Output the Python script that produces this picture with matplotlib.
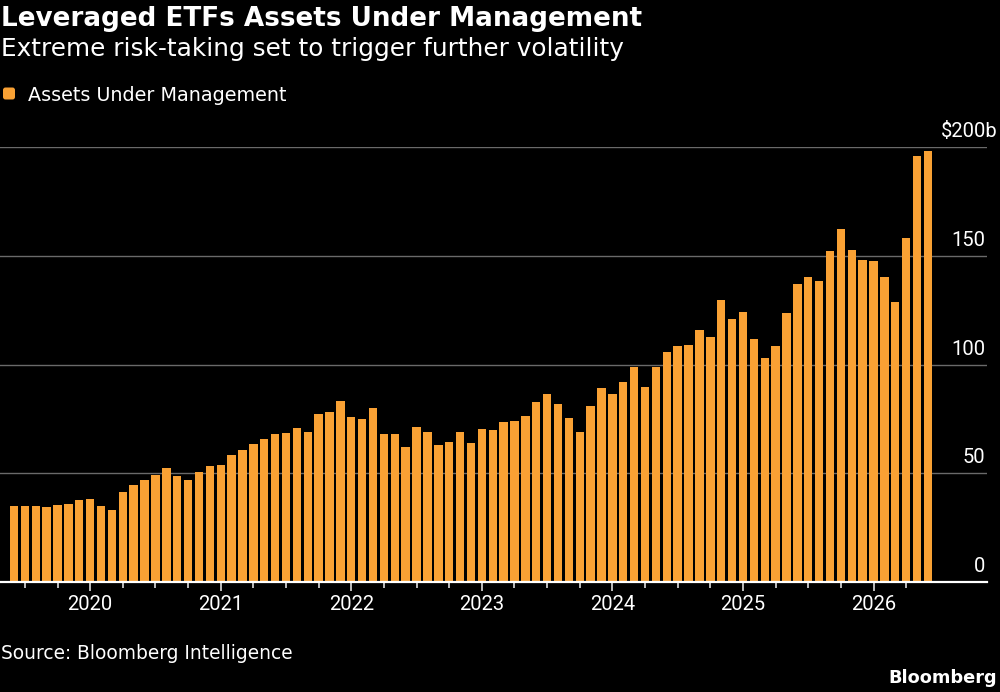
import matplotlib
matplotlib.use("Agg")
import matplotlib.pyplot as plt
from matplotlib import transforms
from matplotlib.patches import FancyBboxPatch

plt.rcParams['font.family'] = ['Roboto', 'DejaVu Sans']
HEAD = ['DejaVu Sans']

# ---- data ----
start_year, start_month = 2019, 6  # first bar: June 2019
aum = [35.0, 35.0, 34.9, 34.4, 35.2, 35.8, 37.5, 37.9, 35.0, 33.0,
       41.3, 44.5, 47.0, 49.3, 52.4, 48.8, 47.0, 50.5, 53.3, 53.9,
       58.2, 60.8, 63.4, 65.7, 67.9, 68.6, 70.6, 69.1, 77.1, 78.2,
       83.2, 75.9, 74.9, 80.0, 67.9, 68.0, 62.0, 71.3, 68.8, 63.0,
       64.3, 69.0, 63.7, 70.3, 69.9, 73.4, 74.0, 76.3, 82.8, 86.5,
       81.7, 75.4, 69.1, 81.1, 89.4, 86.5, 91.8, 99.0, 89.5, 98.8,
       105.8, 108.6, 109.0, 115.9, 112.7, 129.9, 121.1, 124.4, 111.9, 103.0,
       108.6, 123.5, 137.1, 140.5, 138.5, 152.2, 162.6, 152.9, 148.2, 147.7,
       140.4, 128.8, 158.2, 195.9, 198.2]
year_labels = ['2020', '2021', '2022', '2023', '2024', '2025', '2026']
y_ticks = [0, 50, 100, 150, 200]
y_tick_labels = ['0', '50', '100', '150', '$200b']

title = "Leveraged ETFs Assets Under Management"
subtitle = "Extreme risk-taking set to trigger further volatility"
legend_label = "Assets Under Management"
source = "Source: Bloomberg Intelligence"

BAR = '#F9A134'
W, H = 1000, 692

fig = plt.figure(figsize=(W / 100, H / 100), dpi=100, facecolor='black')
ax = fig.add_axes([0, 110.3 / H, 0.987, 434.4 / H])
ax.set_facecolor('black')

x = list(range(len(aum)))
ax.bar(x, aum, width=0.77, color=BAR, zorder=3, label=legend_label)

ax.set_xlim(-1.287, 89.43)
ax.set_ylim(0, 200)

months = [(start_year + (start_month - 1 + i) // 12, (start_month - 1 + i) % 12 + 1) for i in x]
major = [i for i, (yy, mm) in enumerate(months) if mm == 1]
minor = [i for i, (yy, mm) in enumerate(months) if mm in (4, 7, 10) and i <= 82]
ax.set_xticks(major)
ax.set_xticklabels(year_labels)
ax.set_xticks(minor, minor=True)
ax.tick_params(axis='x', which='major', length=6.5, width=1.2, color='#dddddd',
               labelcolor='white', labelsize=14.5, pad=3)
ax.tick_params(axis='x', which='minor', length=4, width=1.2, color='#dddddd')

ax.set_yticks(y_ticks)
ax.tick_params(axis='y', length=0, labelleft=False, labelright=False)
ax.grid(axis='y', color='#6a6a6a', linewidth=1.0, zorder=1)
ax.set_axisbelow(True)

for s in ['left', 'right', 'top']:
    ax.spines[s].set_visible(False)
ax.spines['bottom'].set_color('white')
ax.spines['bottom'].set_linewidth(1.6)
ax.spines['bottom'].set_zorder(5)

ytr = transforms.offset_copy(ax.get_yaxis_transform(), fig=fig, y=10, units='dots')
for v, lab in zip(y_ticks, y_tick_labels):
    xr = 985.5 / 987 if v != 200 else 997 / 987
    ax.text(xr, v, lab, transform=ytr, ha='right', va='baseline',
            color='white', fontsize=14.5, clip_on=False)

# ---- header / footer ----
def fy(py):
    return 1 - py / H

fig.text(1 / W, fy(26.5), title, color='white', fontsize=18.9, fontweight='bold',
         family=HEAD, ha='left', va='baseline')
fig.text(1 / W, fy(56), subtitle, color='white', fontsize=17.85,
         family=HEAD, ha='left', va='baseline')

fig.patches.append(FancyBboxPatch((3, H - 99.5), 12, 12,
                                  boxstyle='round,pad=0,rounding_size=2.5',
                                  transform=transforms.IdentityTransform(),
                                  facecolor=BAR, edgecolor='none', figure=fig))
fig.text(28 / W, fy(100.7), legend_label, color='white', fontsize=13.8,
         family=HEAD, ha='left', va='baseline')

fig.text(1 / W, fy(659.3), source, color='white', fontsize=13.4,
         family=HEAD, ha='left', va='baseline')
fig.text(997 / W, fy(683.3), 'Bloomberg', color='white', fontsize=12.8,
         fontweight='bold', family=HEAD, ha='right', va='baseline')

fig.savefig('out.png', dpi=100, facecolor='black')
